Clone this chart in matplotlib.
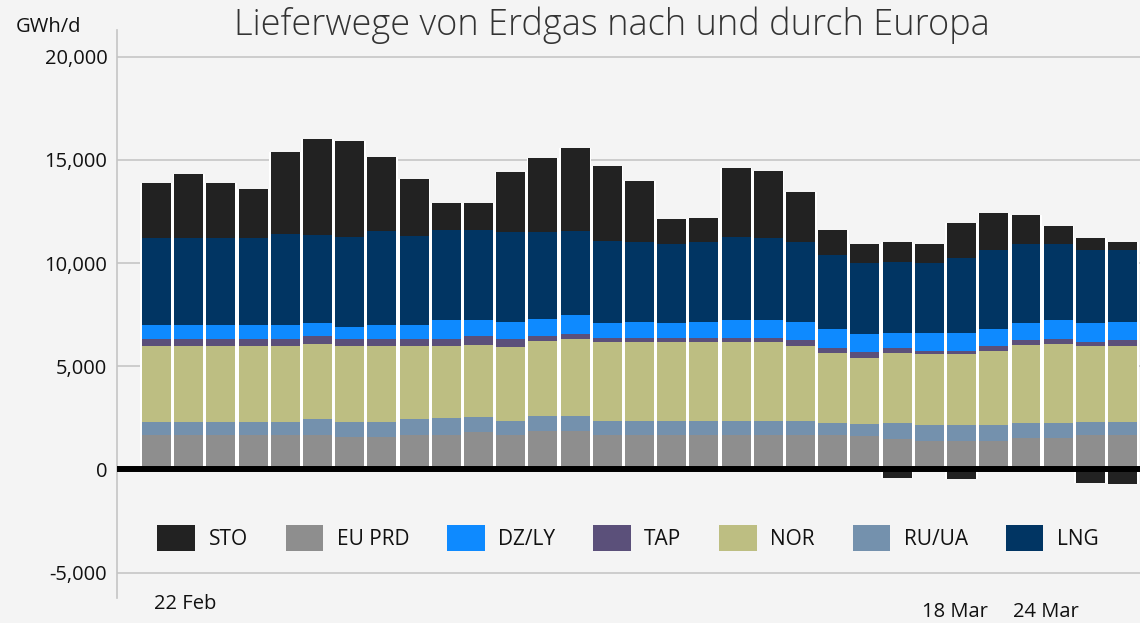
import numpy as np
import pandas as pd
import matplotlib
matplotlib.use("Agg")
import matplotlib.pyplot as plt
from matplotlib.patches import Patch
import matplotlib.transforms as mtransforms

plt.rcParams['font.family'] = ['Open Sans', 'DejaVu Sans']

# ---------------- data (GWh/d) ----------------
dates = pd.date_range("2022-02-22", "2022-03-24", freq="D")

eu_prd = [1650, 1650, 1650, 1650, 1650, 1650, 1550, 1550, 1650, 1690, 1790, 1650, 1840, 1840, 1650, 1650,
          1650, 1650, 1650, 1650, 1650, 1650, 1600, 1450, 1400, 1400, 1400, 1500, 1500, 1650, 1650]
ru_ua = [670, 670, 670, 670, 670, 770, 730, 730, 770, 780, 730, 720, 730, 730, 720, 720,
         720, 720, 720, 720, 720, 580, 580, 780, 730, 730, 730, 730, 730, 670, 670]
nor = [3680, 3680, 3680, 3680, 3640, 3680, 3680, 3680, 3540, 3490, 3530, 3540, 3630, 3770, 3780, 3780,
       3780, 3780, 3780, 3780, 3630, 3390, 3240, 3390, 3440, 3440, 3630, 3820, 3870, 3640, 3680]
tap = [340, 340, 340, 340, 340, 340, 380, 380, 340, 380, 390, 390, 240, 200, 240, 240,
       240, 240, 240, 240, 250, 240, 250, 240, 190, 190, 200, 200, 200, 190, 250]
dz_ly = [650, 650, 650, 650, 690, 630, 580, 680, 720, 880, 820, 820, 870, 920, 680, 730,
         680, 730, 870, 870, 870, 920, 870, 770, 830, 830, 820, 820, 920, 920, 870]
lng = [4210, 4210, 4210, 4210, 4440, 4310, 4360, 4510, 4310, 4400, 4360, 4360, 4170, 4110, 4020, 3920,
       3870, 3920, 4020, 3930, 3920, 3630, 3440, 3440, 3430, 3630, 3830, 3830, 3680, 3580, 3490]
sto = [2700, 3130, 2700, 2410, 3970, 4650, 4650, 3630, 2760, 1310, 1310, 2950, 3630, 4020, 3630, 2910,
       1170, 1120, 3300, 3290, 2420, 1210, 960, 970, 920, 1740, 1790, 1450, 870, 540, 430]
sto_neg = [0, 0, 0, 0, 0, 0, 0, 0, 0, 0, 0, 0, 0, 0, 0, 0,
           0, 0, 0, 0, 0, 0, 0, -440, 0, -450, 0, 0, 0, -680, -730]

series_names = ["EU PRD", "RU/UA", "NOR", "TAP", "DZ/LY", "LNG", "STO"]
legend_order = ["STO", "EU PRD", "DZ/LY", "TAP", "NOR", "RU/UA", "LNG"]
tick_labels = ["22 Feb", "18 Mar", "24 Mar"]
title = "Lieferwege von Erdgas nach und durch Europa"
unit = "GWh/d"

# ---------------- style ----------------
colors = {"STO": "#222222", "EU PRD": "#8e8e8e", "DZ/LY": "#0e8aff", "TAP": "#5b507a",
          "NOR": "#bdbe82", "RU/UA": "#7491ad", "LNG": "#013563"}
bg = "#f4f4f4"

fig = plt.figure(figsize=(11.4, 6.23), dpi=100, facecolor=bg)
ax = fig.add_axes([117 / 1140, 1 - 598 / 623, 1 - 117 / 1140, (598 - 30) / 623])
ax.set_facecolor(bg)

x = np.arange(len(dates))
values = {"EU PRD": eu_prd, "RU/UA": ru_ua, "NOR": nor, "TAP": tap,
          "DZ/LY": dz_ly, "LNG": lng, "STO": sto}

# white backing (gaps between columns)
tops = np.sum([np.array(values[n]) for n in series_names], axis=0)
negs = np.array(sto_neg)
ax.bar(x, tops - negs, bottom=negs, width=1.0, color="white", zorder=1, linewidth=0)

bottom = np.zeros(len(x))
for name in series_names:
    v = np.array(values[name], dtype=float)
    ax.bar(x, v, bottom=bottom, width=0.9, color=colors[name], zorder=2, linewidth=0)
    bottom += v
ax.bar(x, sto_neg, width=0.9, color=colors["STO"], zorder=2, linewidth=0)

# axes
ax.set_xlim(-1.227, 30.54)
ax.set_ylim(-6230, 21290)
ax.set_yticks([-5000, 0, 5000, 10000, 15000, 20000])
ax.yaxis.set_major_formatter(matplotlib.ticker.FuncFormatter(lambda v, p: f"{int(v):,}"))
ax.tick_params(axis="y", length=0, pad=7, labelsize=14.5, labelcolor="#111111")
ax.set_xticks([])
for s in ["top", "right", "bottom"]:
    ax.spines[s].set_visible(False)
ax.spines["left"].set_color("#c4c4c4")
ax.spines["left"].set_linewidth(1.2)
for yv in [-5000, 5000, 10000, 15000, 20000]:
    ax.axhline(yv, color="#c6c6c6", lw=1.2, zorder=0)
ax.axhline(0, color="black", lw=4.3, zorder=3)

# date labels
trans = mtransforms.blended_transform_factory(ax.transData, fig.transFigure)
tick_pos = [0.885, 24.80, 27.62]
tick_y = [1 - 604 / 623, 1 - 612 / 623, 1 - 612 / 623]
for lab, px, py in zip(tick_labels, tick_pos, tick_y):
    ax.text(px, py, lab, transform=trans, ha="center", va="center", fontsize=14.5, color="#111111")

# title and unit
fig.text(612 / 1140, 1 - 25 / 623, title, ha="center", va="center", fontsize=26,
         fontweight="light", color="#333333")
fig.text(16 / 1140, 1 - 27 / 623, unit, ha="left", va="center", fontsize=14.5, color="#111111")

# legend
handles = [Patch(facecolor=colors[n], edgecolor="none", label=n) for n in legend_order]
leg = fig.legend(handles=handles, loc="center", bbox_to_anchor=(628 / 1140, 1 - 538 / 623),
                 ncol=7, frameon=False, fontsize=15, handlelength=1.8, handleheight=1.5,
                 handletextpad=0.65, columnspacing=1.82, borderpad=0, labelcolor="#111111")

fig.savefig("out.png", dpi=100, facecolor=bg)
